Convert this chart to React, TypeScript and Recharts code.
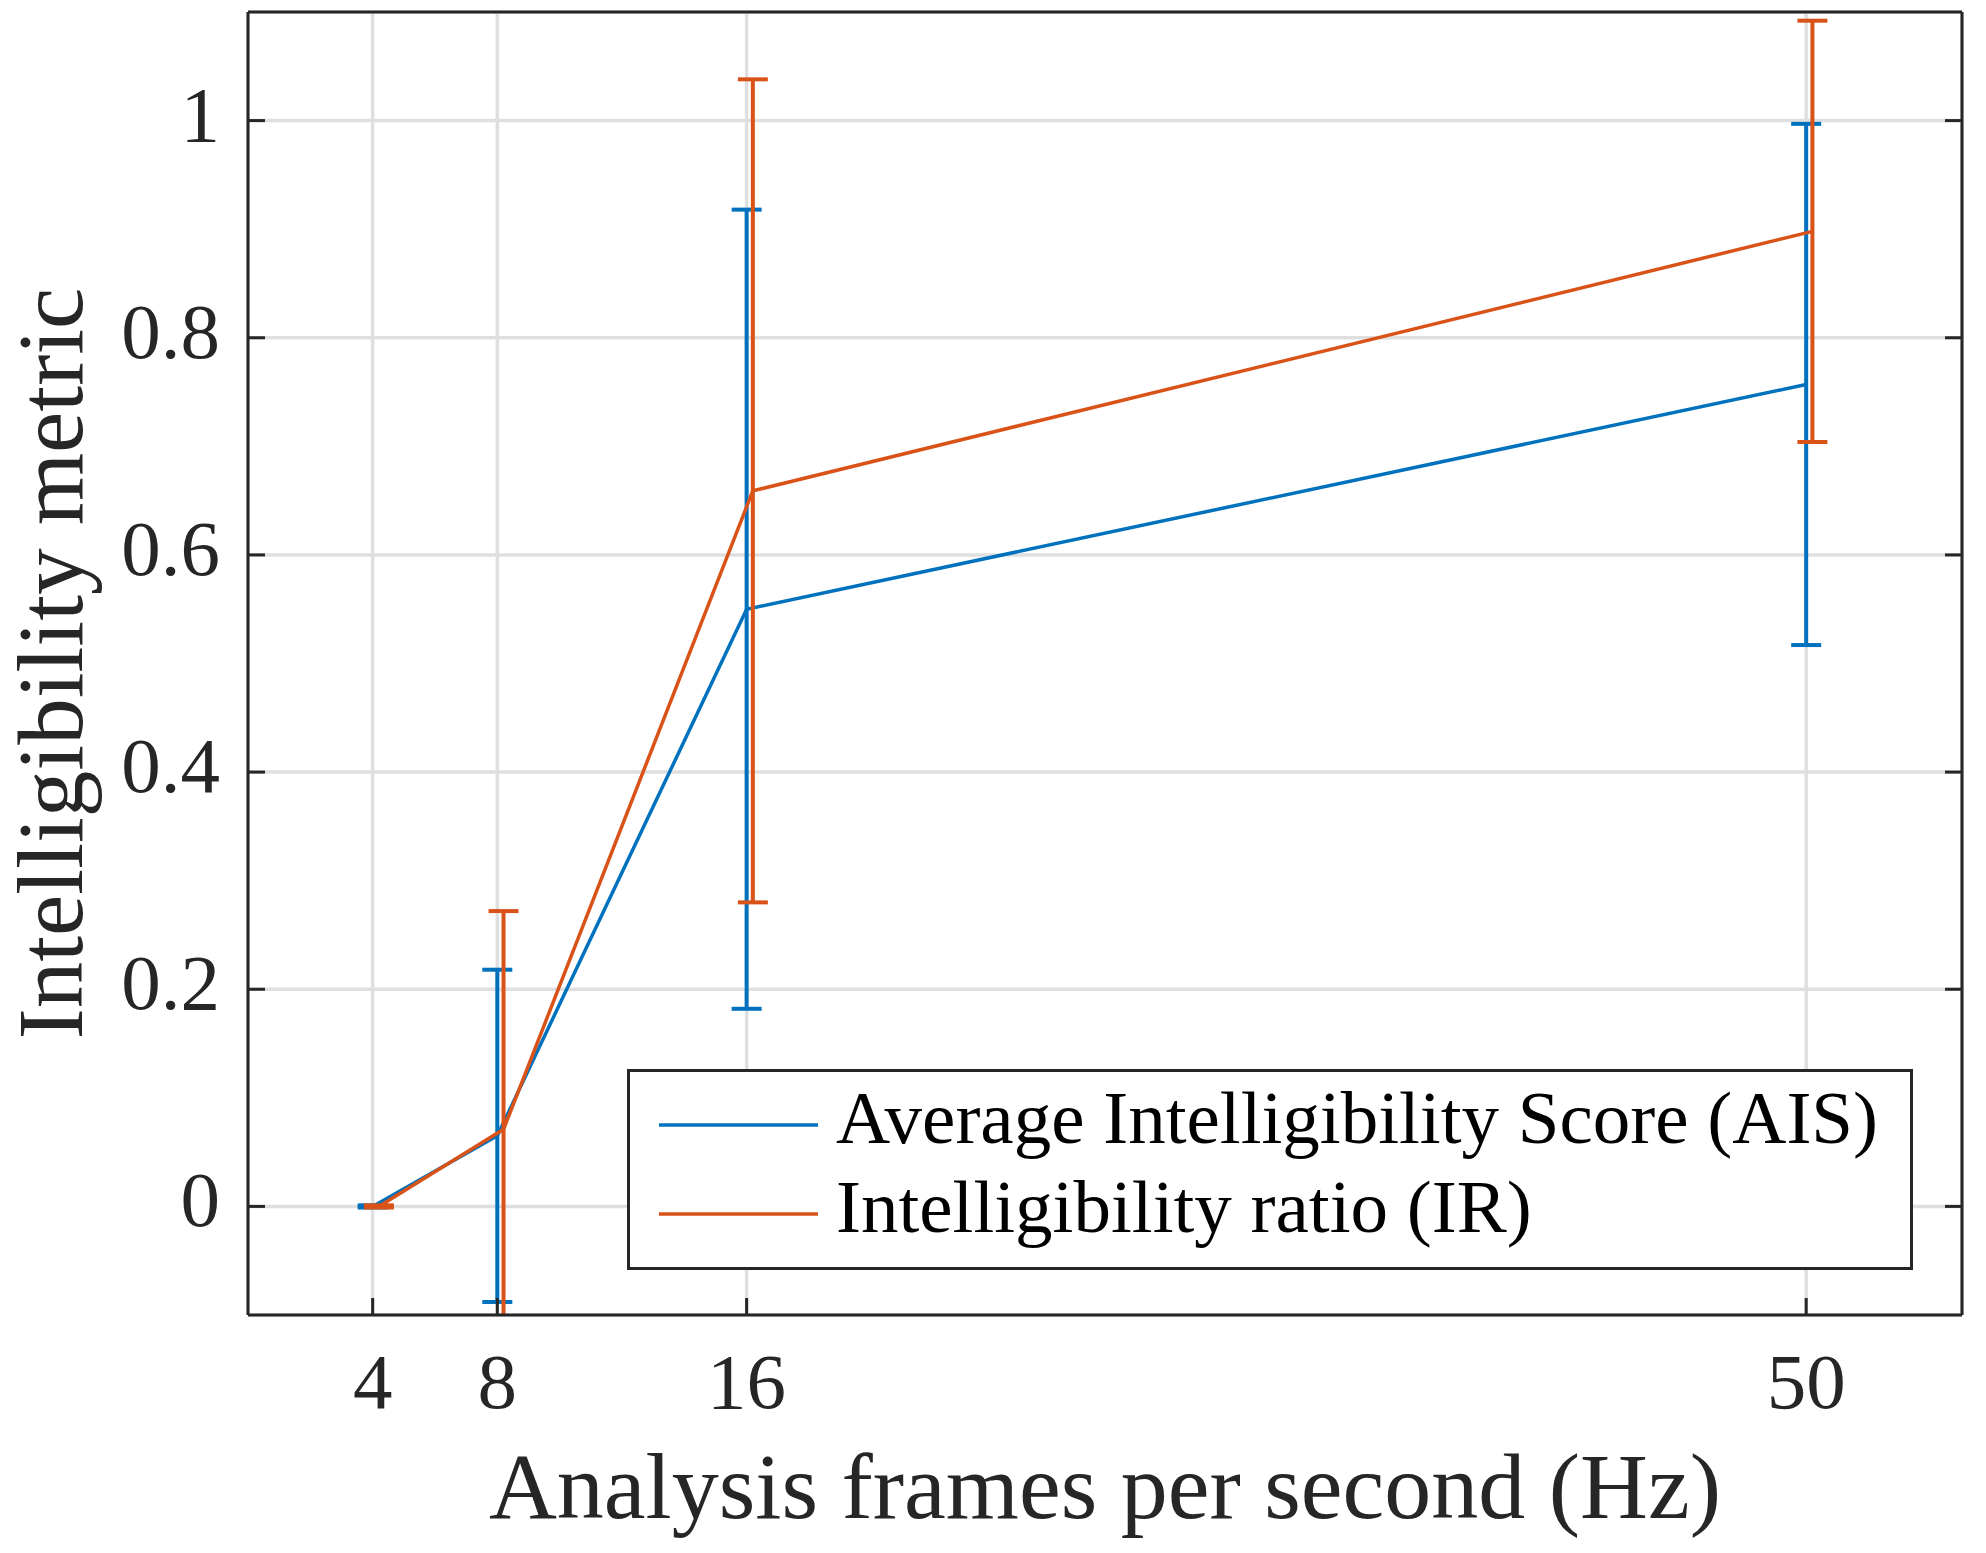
import { LineChart, Line, XAxis, YAxis, CartesianGrid, ErrorBar, Legend } from "recharts";

// AIS series (blue)
const AIS_X = [4, 8, 16, 50];
const AIS_Y = [0, 0.065, 0.55, 0.757];
const AIS_ERR = [0.001, 0.153, 0.368, 0.24];

// IR series (orange), plotted with a small x offset
const IR_X = [4.2, 8.2, 16.2, 50.2];
const IR_Y = [0, 0.071, 0.659, 0.898];
const IR_ERR = [0.001, 0.201, 0.379, 0.194];

const X_TICKS = [4, 8, 16, 50];
const Y_TICKS = [0, 0.2, 0.4, 0.6, 0.8, 1];

const aisData = AIS_X.map((x, i) => ({ x, y: AIS_Y[i], e: AIS_ERR[i] }));
const irData = IR_X.map((x, i) => ({ x, y: IR_Y[i], e: IR_ERR[i] }));

const FONT = '"Liberation Serif", "Times New Roman", serif';
const INK = "#262626";
const BLUE = "#0072BD";
const ORANGE = "#D95319";

const LegendBox = ({ payload }: any) => (
  <div
    style={{
      boxSizing: "border-box",
      width: 1286,
      height: 201,
      border: `3px solid ${INK}`,
      background: "#fff",
      paddingTop: 8,
      fontFamily: FONT,
    }}
  >
    {(payload || []).map((p: any) => (
      <div key={p.value} style={{ display: "flex", alignItems: "center", height: 89 }}>
        <svg width={206} height={10} style={{ flex: "none" }}>
          <line x1={29} x2={188} y1={5} y2={5} stroke={p.color} strokeWidth={3.5} />
        </svg>
        <span style={{ fontSize: 75, lineHeight: "89px", color: "#000", position: "relative", top: -7 }}>
          {p.value}
        </span>
      </div>
    ))}
  </div>
);

export default function App() {
  return (
    <div style={{ position: "absolute", left: 0, top: 0, background: "#fff" }}>
      {/* error bars sit outside the line's clipped layer, so clip them to the same plot rect */}
      <style>{`.recharts-errorBar, .recharts-errorBars { clip-path: url(#clipPath-irLine); }`}</style>
      <LineChart
        width={1986}
        height={1553}
        margin={{ top: 11, right: 23, left: 247, bottom: 237 }}
        style={{ fontFamily: FONT }}
      >
        <CartesianGrid stroke="#dfdfdf" strokeWidth={3.5} />
        <XAxis
          dataKey="x"
          type="number"
          domain={[0, 55]}
          ticks={X_TICKS}
          allowDataOverflow
          height={1}
          tickSize={-17}
          tickMargin={54}
          axisLine={{ stroke: INK, strokeWidth: 3 }}
          tickLine={{ stroke: INK, strokeWidth: 3 }}
          tick={{ fill: INK, fontSize: 79, fontFamily: FONT }}
          label={{ value: "Analysis frames per second (Hz)", position: "bottom", offset: 135, fill: INK, fontSize: 94, fontFamily: FONT }}
        />
        <XAxis
          xAxisId="top"
          orientation="top"
          type="number"
          domain={[0, 55]}
          ticks={X_TICKS}
          allowDataOverflow
          height={1}
          tickSize={-17}
          tickFormatter={() => ""}
          axisLine={{ stroke: INK, strokeWidth: 3 }}
          tickLine={{ stroke: INK, strokeWidth: 3 }}
        />
        <YAxis
          type="number"
          domain={[-0.1, 1.1]}
          ticks={Y_TICKS}
          allowDataOverflow
          width={1}
          tickSize={-17}
          tickMargin={45}
          axisLine={{ stroke: INK, strokeWidth: 3 }}
          tickLine={{ stroke: INK, strokeWidth: 3 }}
          tick={{ fill: INK, fontSize: 79, fontFamily: FONT, dy: -8 }}
          label={{
            value: "Intelligibility metric",
            angle: -90,
            position: "left",
            offset: 198,
            fill: INK,
            fontSize: 93,
            fontFamily: FONT,
            style: { textAnchor: "middle" },
          }}
        />
        <YAxis
          yAxisId="right"
          orientation="right"
          type="number"
          domain={[-0.1, 1.1]}
          ticks={Y_TICKS}
          allowDataOverflow
          width={1}
          tickSize={-17}
          tickFormatter={() => ""}
          axisLine={{ stroke: INK, strokeWidth: 3 }}
          tickLine={{ stroke: INK, strokeWidth: 3 }}
        />
        <Line
          id="aisLine"
          data={aisData}
          dataKey="y"
          name="Average Intelligibility Score (AIS)"
          stroke={BLUE}
          strokeWidth={3.5}
          dot={false}
          activeDot={false}
          isAnimationActive={false}
        >
          <ErrorBar dataKey="e" direction="y" width={15} stroke={BLUE} strokeWidth={4} isAnimationActive={false} />
        </Line>
        <Line
          id="irLine"
          data={irData}
          dataKey="y"
          name="Intelligibility ratio (IR)"
          stroke={ORANGE}
          strokeWidth={3.5}
          dot={false}
          activeDot={false}
          isAnimationActive={false}
        >
          <ErrorBar dataKey="e" direction="y" width={15} stroke={ORANGE} strokeWidth={4} isAnimationActive={false} />
        </Line>
        <Legend
          layout="vertical"
          align="center"
          verticalAlign="middle"
          content={<LegendBox />}
          wrapperStyle={{ left: 627, top: 1069, width: 1286 }}
        />
      </LineChart>
    </div>
  );
}
